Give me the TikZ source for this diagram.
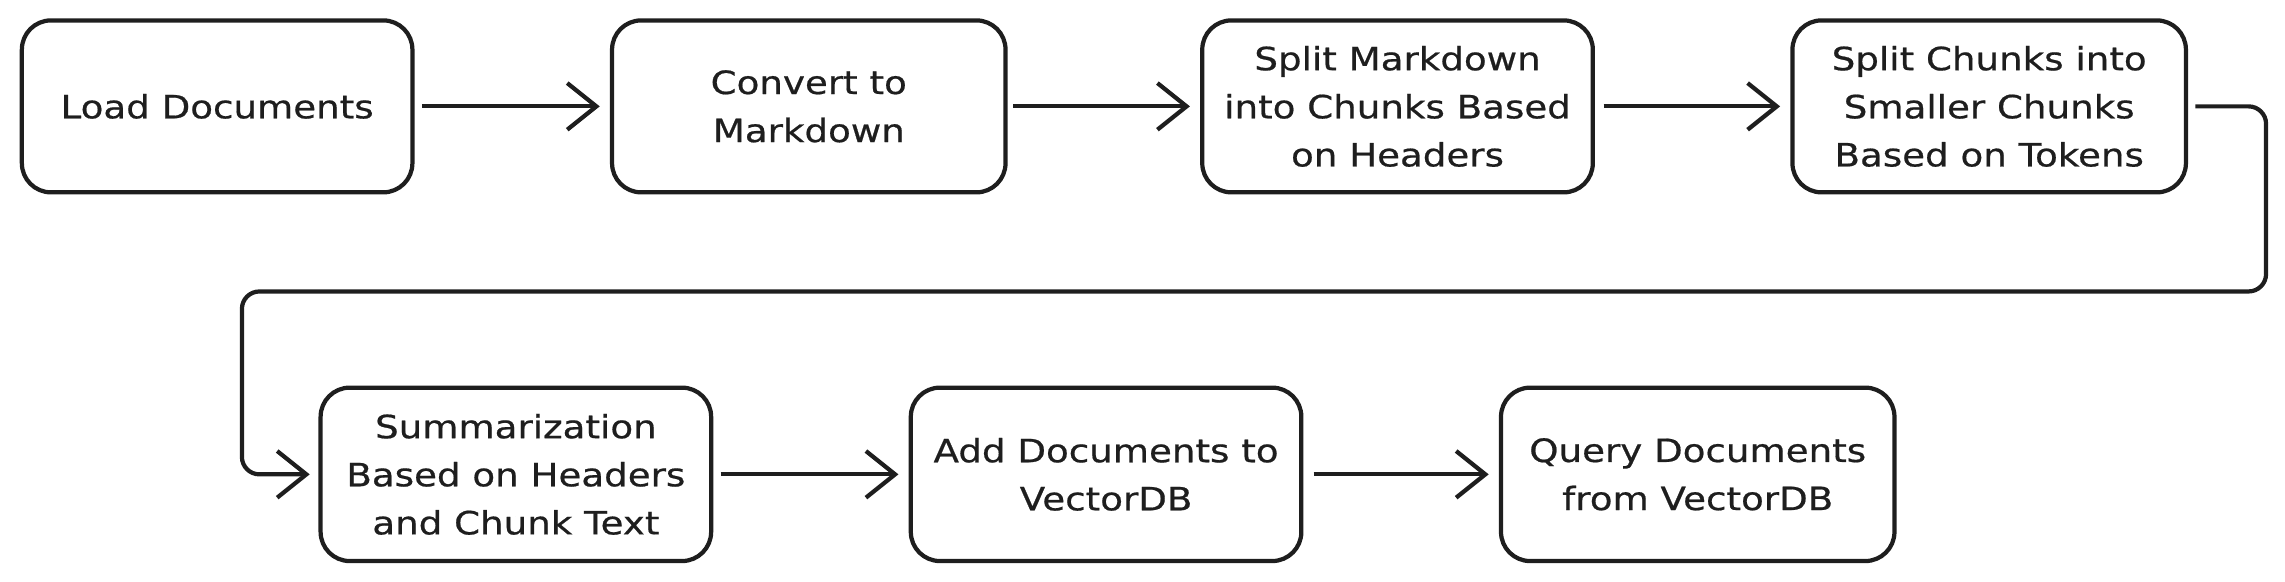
\documentclass[tikz,border=0pt]{standalone}
\usepackage{fontspec}
\setmainfont{DejaVu Sans}[FakeStretch=1.16,FakeBold=0.6]
\usetikzlibrary{arrows.meta}
\definecolor{ink}{HTML}{1E1E1E}
\begin{document}
\begin{tikzpicture}[x=1pt,y=-1pt,
  box/.style={draw=ink, line width=2.9pt, rounded corners=20pt, align=center,
    minimum width=268pt, minimum height=118pt, inner sep=0pt, text=ink,
    font=\fontsize{22}{33}\selectfont},
  conn/.style={draw=ink, line width=2.9pt, rounded corners=12pt,
    -{Straight Barb[length=20pt,width=32pt,line width=2.9pt]}}]
\useasboundingbox (0,0) rectangle (1568,398.7);
\node[box] (b1) at (149,73) {Load Documents};
\node[box, minimum width=270pt] (b2) at (555,73) {Convert to\\Markdown};
\node[box] (b3) at (959,73) {Split Markdown\\into Chunks Based\\on Headers};
\node[box, minimum width=270pt] (b4) at (1365,73) {Split Chunks into\\Smaller Chunks\\Based on Tokens};
\node[box, minimum height=119pt] (b5) at (354,325.5) {Summarization\\Based on Headers\\and Chunk Text};
\node[box, minimum height=119pt] (b6) at (759,325.5) {Add Documents to\\VectorDB};
\node[box, minimum width=270pt, minimum height=119pt] (b7) at (1165,325.5) {Query Documents\\from VectorDB};
\draw[conn] ([xshift=5pt]b1.east) -- ([xshift=-7pt]b2.west);
\draw[conn] ([xshift=4pt]b2.east) -- ([xshift=-7pt]b3.west);
\draw[conn] ([xshift=6pt]b3.east) -- ([xshift=-7pt]b4.west);
\coordinate (c1) at (1555,73);
\coordinate (c2) at (1555,200);
\coordinate (c3) at (166,200);
\coordinate (c4) at (166,325.5);
\draw[conn] ([xshift=5pt]b4.east) -- (c1) -- (c2) -- (c3) -- (c4) -- ([xshift=-6pt]b5.west);
\draw[conn] ([xshift=5pt]b5.east) -- ([xshift=-7pt]b6.west);
\draw[conn] ([xshift=7pt]b6.east) -- ([xshift=-7pt]b7.west);
\end{tikzpicture}
\end{document}
